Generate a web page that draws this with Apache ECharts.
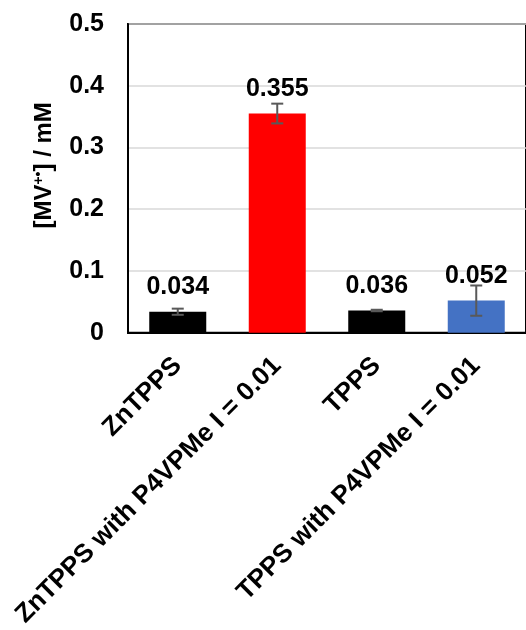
<!DOCTYPE html>
<html>
<head>
<meta charset="utf-8">
<script src="https://cdn.jsdelivr.net/npm/echarts@6/dist/echarts.min.js"></script>
<style>
html,body{margin:0;padding:0;background:#fff;}
#chart{width:526px;height:630px;}
</style>
</head>
<body>
<div id="chart"></div>
<script>
var categories = ['ZnTPPS', 'ZnTPPS with P4VPMe I = 0.01', 'TPPS', 'TPPS with P4VPMe I = 0.01'];
var values = [0.034, 0.355, 0.036, 0.052];
var errors = [0.005, 0.016, 0.0012, 0.0245];
var barColors = ['#000000', '#ff0000', '#000000', '#4472c4'];
var yTicks = [0, 0.1, 0.2, 0.3, 0.4, 0.5];

var FONT = '"Liberation Sans", Arial, sans-serif';
var chart = echarts.init(document.getElementById('chart'), null, {renderer: 'canvas'});

var barData = values.map(function (v, i) {
  return {value: v, itemStyle: {color: barColors[i]}};
});
var errData = values.map(function (v, i) {
  return [i, v - errors[i], v + errors[i]];
});

chart.setOption({
  animation: false,
  backgroundColor: '#ffffff',
  grid: {
    left: 128, top: 24, bottom: 297, right: -6,
    show: true, borderColor: '#000000', borderWidth: 2, backgroundColor: 'transparent'
  },
  xAxis: {
    type: 'category',
    data: categories,
    axisLine: {show: true, lineStyle: {color: '#000000', width: 2}},
    axisTick: {show: false},
    axisLabel: {
      interval: 0, rotate: 45, margin: 29,
      color: '#000000', fontFamily: FONT, fontWeight: 'bold', fontSize: 26
    }
  },
  yAxis: {
    type: 'value',
    min: 0, max: 0.5, interval: 0.1,
    axisLine: {show: true, lineStyle: {color: '#000000', width: 2}},
    axisTick: {show: false},
    splitLine: {lineStyle: {color: '#d9d9d9', width: 1.5}},
    axisLabel: {
      margin: 24, color: '#000000', fontFamily: FONT, fontWeight: 'bold', fontSize: 25,
      formatter: function (v) {
        for (var k = 0; k < yTicks.length; k++) {
          if (Math.abs(yTicks[k] - v) < 1e-9) { return String(yTicks[k]); }
        }
        return '';
      }
    },
    name: '[MV{sup|+•}] / mM',
    nameLocation: 'middle',
    nameGap: 72,
    nameRotate: 90,
    nameTextStyle: {
      color: '#000000', fontFamily: FONT, fontWeight: 'bold', fontSize: 24,
      padding: [0, 0, 0, 26],
      rich: {
        sup: {fontSize: 14, fontWeight: 'bold', fontFamily: FONT, color: '#000000', verticalAlign: 'top', padding: [0, 0, 9, 0]}
      }
    }
  },
  series: [
    {
      type: 'bar',
      data: barData,
      barWidth: 57,
      label: {
        show: true, position: 'top', distance: 12,
        color: '#000000', fontFamily: FONT, fontWeight: 'bold', fontSize: 25,
        formatter: function (p) { return p.value.toFixed(3); }
      },
      z: 2
    },
    {
      type: 'custom',
      data: errData,
      z: 5,
      renderItem: function (params, api) {
        var x = api.value(0);
        var lo = api.coord([x, api.value(1)]);
        var hi = api.coord([x, api.value(2)]);
        var hw = 6;
        var st = {stroke: '#595959', lineWidth: 2};
        return {
          type: 'group',
          children: [
            {type: 'line', shape: {x1: lo[0], y1: lo[1], x2: hi[0], y2: hi[1]}, style: st},
            {type: 'line', shape: {x1: lo[0] - hw, y1: lo[1], x2: lo[0] + hw, y2: lo[1]}, style: st},
            {type: 'line', shape: {x1: hi[0] - hw, y1: hi[1], x2: hi[0] + hw, y2: hi[1]}, style: st}
          ]
        };
      }
    }
  ]
});
</script>
</body>
</html>
